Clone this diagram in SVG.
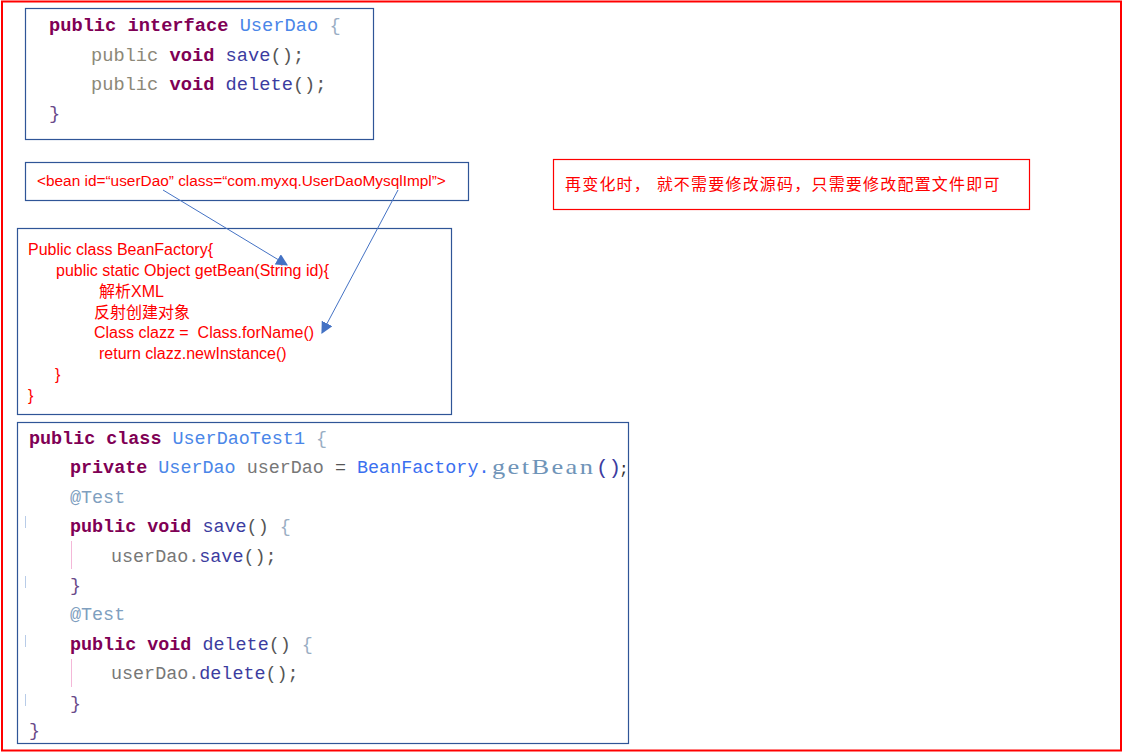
<svg xmlns="http://www.w3.org/2000/svg" width="1123" height="753" viewBox="0 0 1123 753">
<style>
.box{fill:#fff;stroke:#2f5597;stroke-width:1.2}
.code{font-family:"Liberation Mono",monospace;font-size:18.4px;fill:#444}
.big{font-size:18.7px}
.kw{fill:#7f0055;font-weight:bold}
.ty{fill:#4a86e8}
.gp{fill:#8c8878}
.me{fill:#3c3ca0}
.va{fill:#777}
.pu{fill:#555}
.an{fill:#7f9fbf}
.br{fill:#6a4a8a}
.lb{fill:#9aaec4}
.red{font-family:"Liberation Sans","Noto Sans CJK SC",sans-serif;font-size:16px;fill:#ff0000;white-space:pre}
.conn{stroke:#4472c4;stroke-width:1;fill:none;marker-end:url(#ah)}
.gut{stroke:#b8cce8;stroke-width:1}
.pk{stroke:#f4b8d8;stroke-width:1}
</style>
<defs>
<marker id="ah" viewBox="0 0 10 10" refX="9" refY="5" markerWidth="12" markerHeight="12" markerUnits="userSpaceOnUse" orient="auto">
<path d="M0,0 L10,5 L0,10 z" fill="#4472c4"/>
</marker>
</defs>
<rect x="0" y="0" width="1123" height="753" fill="#fff"/>
<rect x="2" y="1.5" width="1119" height="749" fill="none" stroke="#ff0000" stroke-width="2"/>

<g id="userdao-interface">
<rect class="box" x="25.5" y="8.5" width="348" height="131"/>
<text class="code big" x="49" y="31"><tspan class="kw">public interface</tspan> <tspan class="ty">UserDao</tspan> <tspan class="lb">{</tspan></text>
<text class="code big" x="91" y="61"><tspan class="gp">public</tspan> <tspan class="kw">void</tspan> <tspan class="me">save</tspan><tspan class="pu">();</tspan></text>
<text class="code big" x="91" y="90"><tspan class="gp">public</tspan> <tspan class="kw">void</tspan> <tspan class="me">delete</tspan><tspan class="pu">();</tspan></text>
<text class="code big br" x="49" y="119">}</text>
</g>

<g id="bean-config">
<rect class="box" x="25.5" y="162.5" width="443" height="38"/>
<text class="red" x="37" y="186" style="font-size:15.4px">&lt;bean id=“userDao” class=“com.myxq.UserDaoMysqlImpl”&gt;</text>
</g>

<g id="note">
<rect x="553.5" y="159.5" width="476" height="50" fill="#fff" stroke="#ff0000" stroke-width="1.2"/>
<text class="red" x="565" y="190" letter-spacing="1.2">再变化时， 就不需要修改源码，只需要修改配置文件即可</text>
</g>

<g id="bean-factory">
<rect class="box" x="17.5" y="228.5" width="434" height="186"/>
<text class="red" x="28" y="255">Public class BeanFactory{</text>
<text class="red" x="56" y="276">public static Object getBean(String id){</text>
<text class="red" x="99" y="297">解析XML</text>
<text class="red" x="94" y="318">反射创建对象</text>
<text class="red" x="94" y="338" xml:space="preserve">Class clazz =  Class.forName()</text>
<text class="red" x="99" y="359">return clazz.newInstance()</text>
<text class="red" x="55" y="380">}</text>
<text class="red" x="28" y="401">}</text>
</g>

<g id="userdao-test">
<rect class="box" x="17.5" y="422.5" width="611" height="321"/>
<line class="gut" x1="25.5" y1="516" x2="25.5" y2="528"/>
<line class="gut" x1="25.5" y1="576" x2="25.5" y2="588"/>
<line class="gut" x1="25.5" y1="635" x2="25.5" y2="647"/>
<line class="gut" x1="25.5" y1="694" x2="25.5" y2="706"/>
<line class="pk" x1="71.5" y1="541" x2="71.5" y2="569"/>
<line class="pk" x1="71.5" y1="659" x2="71.5" y2="687"/>
<text class="code" x="29" y="444"><tspan class="kw">public class</tspan> <tspan class="ty">UserDaoTest1</tspan> <tspan class="lb">{</tspan></text>
<text class="code" x="70" y="473"><tspan class="kw">private</tspan> <tspan class="ty">UserDao</tspan> <tspan class="va">userDao</tspan> <tspan class="pu">=</tspan> <tspan fill="#3a6ff0">BeanFactory.</tspan></text>
<text transform="translate(492,474) scale(1.2,1)" font-family="Liberation Serif,serif" font-size="22" fill="#6f94b8" letter-spacing="2">getBean</text>
<text x="596" y="474" font-family="Liberation Mono,monospace" font-size="21" fill="#3c3ca0">()</text>
<text x="619" y="474" font-family="Liberation Mono,monospace" font-size="16" fill="#333">;</text>
<text class="code an" x="70" y="503">@Test</text>
<text class="code" x="70" y="532"><tspan class="kw">public void</tspan> <tspan class="me">save</tspan><tspan class="pu">()</tspan> <tspan class="lb">{</tspan></text>
<text class="code" x="111" y="562"><tspan class="va">userDao.</tspan><tspan class="me">save</tspan><tspan class="pu">();</tspan></text>
<text class="code br" x="70" y="591">}</text>
<text class="code an" x="70" y="620">@Test</text>
<text class="code" x="70" y="650"><tspan class="kw">public void</tspan> <tspan class="me">delete</tspan><tspan class="pu">()</tspan> <tspan class="lb">{</tspan></text>
<text class="code" x="111" y="679"><tspan class="va">userDao.</tspan><tspan class="me">delete</tspan><tspan class="pu">();</tspan></text>
<text class="code br" x="70" y="709">}</text>
<text class="code br" x="29" y="736">}</text>
</g>

<g id="connectors">
<line class="conn" x1="163" y1="190" x2="287" y2="265"/>
<line class="conn" x1="398" y1="190" x2="322" y2="333"/>
</g>
</svg>
